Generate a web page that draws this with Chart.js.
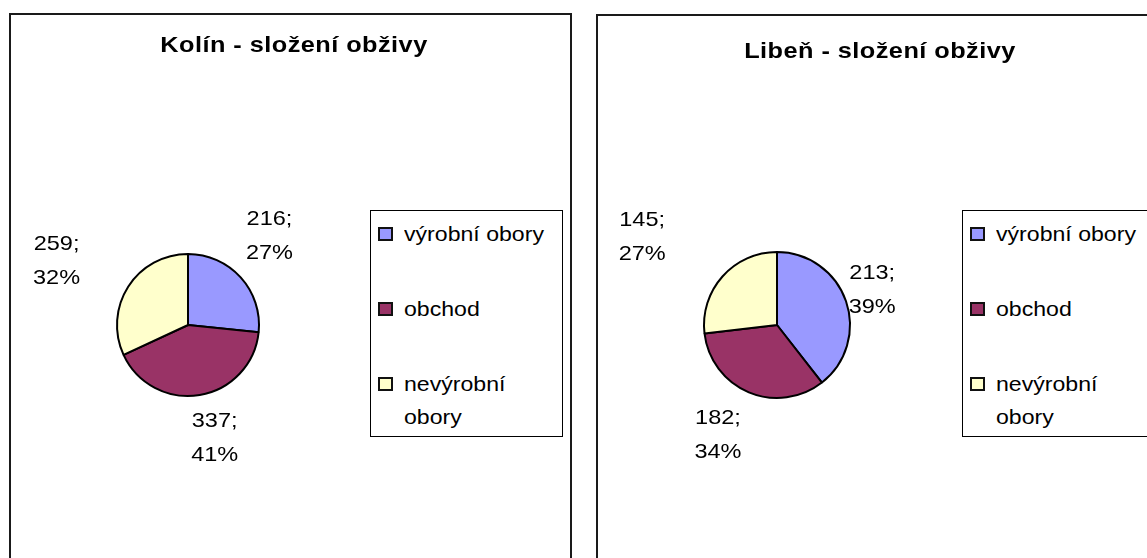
<!DOCTYPE html>
<html lang="cs">
<head>
<meta charset="utf-8">
<title>Složení obživy</title>
<script src="https://cdn.jsdelivr.net/npm/chart.js@4/dist/chart.umd.min.js"></script>
<style>
  html, body { margin: 0; padding: 0; background: #fff; }
  body { width: 1147px; height: 558px; position: relative; overflow: hidden;
         font-family: "Liberation Sans", Arial, sans-serif; color: #000; }
  .panel { position: absolute; border: 2px solid #1a1a1a; box-sizing: border-box; height: 600px; }
  canvas { position: absolute; top: 0; }
  .titre { position: absolute; font-weight: bold; font-size: 22px; line-height: 22px;
           letter-spacing: 0.4px; white-space: nowrap; transform: translateX(-50%) scaleX(1.15); }
  .legende { position: absolute; top: 210px; width: 193px; height: 227px;
             border: 1px solid #000; box-sizing: border-box; background: #fff; }
  .item { position: absolute; left: 33px; width: 142px; font-size: 21px; line-height: 33px; }
  .texte { display: block; transform: scaleX(1.1); transform-origin: left center; }
  .carre { position: absolute; left: -26px; top: 10px; width: 11px; height: 10px;
           border: 2px solid #111; }
</style>
</head>
<body>
<div class="panel" style="left:9px; top:13px; width:563px;"></div>
<div class="panel" style="left:596px; top:14px; width:600px;"></div>

<canvas id="kolin" width="580" height="558" style="left:0px"></canvas>
<canvas id="liben" width="567" height="558" style="left:580px"></canvas>

<div class="titre" style="left:294px; top:34px;">Kolín - složení obživy</div>
<div class="titre" style="left:880px; top:40px;">Libeň - složení obživy</div>

<div class="legende" id="legKolin" style="left:370px;"></div>
<div class="legende" id="legLiben" style="left:962px;"></div>

<script>
// data
const categories = ["výrobní obory", "obchod", "nevýrobní obory"];
const kolinValues = [216, 337, 259];
const kolinPercents = [27, 41, 32];
const libenValues = [213, 182, 145];
const libenPercents = [39, 34, 27];
const colors = ["#9999FF", "#993366", "#FFFFCC"];

// labels "value;" / "percent%" drawn next to each slice
const sliceLabels = {
    id: "sliceLabels",
    afterDatasetsDraw(chart, args, opts) {
        const ctx = chart.ctx;
        const meta = chart.getDatasetMeta(0);
        const values = chart.data.datasets[0].data;
        const texte = (t, x, y) => {
            ctx.save();
            ctx.translate(x, y);
            ctx.scale(1.12, 1);
            ctx.fillText(t, 0, 0);
            ctx.restore();
        };
        ctx.save();
        ctx.font = "21px 'Liberation Sans', Arial, sans-serif";
        ctx.fillStyle = "#000";
        ctx.textAlign = "center";
        ctx.textBaseline = "alphabetic";
        meta.data.forEach((arc, i) => {
            const p = arc.getProps(["x", "y", "startAngle", "endAngle"], true);
            const a = (p.startAngle + p.endAngle) / 2 + opts.turn[i] * Math.PI / 180;
            const cx = p.x + Math.cos(a) * opts.dist[i];
            const cy = p.y + Math.sin(a) * opts.dist[i];
            texte(values[i] + ";", cx, cy - 9);
            texte(opts.percents[i] + "%", cx, cy + 25);
        });
        ctx.restore();
    }
};

function kolac(id, values, percents, radius, padding, dist, turn) {
    return new Chart(document.getElementById(id), {
        type: "pie",
        data: {
            labels: categories,
            datasets: [{
                data: values,
                backgroundColor: colors,
                borderColor: "#000",
                borderWidth: 2
            }]
        },
        options: {
            responsive: false,
            animation: false,
            radius: radius,
            layout: { padding: padding },
            plugins: {
                legend: { display: false },
                tooltip: { enabled: false },
                sliceLabels: { percents: percents, dist: dist, turn: turn }
            }
        },
        plugins: [sliceLabels]
    });
}

kolac("kolin", kolinValues, kolinPercents, 71,
      { left: 117, right: 321, top: 254, bottom: 162 },
      [122, 114, 147], [-6, -4, -6]);
kolac("liben", libenValues, libenPercents, 73,
      { left: 124, right: 297, top: 252, bottom: 160 },
      [102, 123, 162], [-2, 6, -8]);

// legend boxes
function legende(id) {
    const box = document.getElementById(id);
    const tops = [6, 81, 156];
    categories.forEach((nom, i) => {
        box.innerHTML += `
            <div class="item" style="top:${tops[i]}px">
                <span class="carre" style="background:${colors[i]}"></span><span class="texte">${nom}</span>
            </div>`;
    });
}
legende("legKolin");
legende("legLiben");
</script>
</body>
</html>
